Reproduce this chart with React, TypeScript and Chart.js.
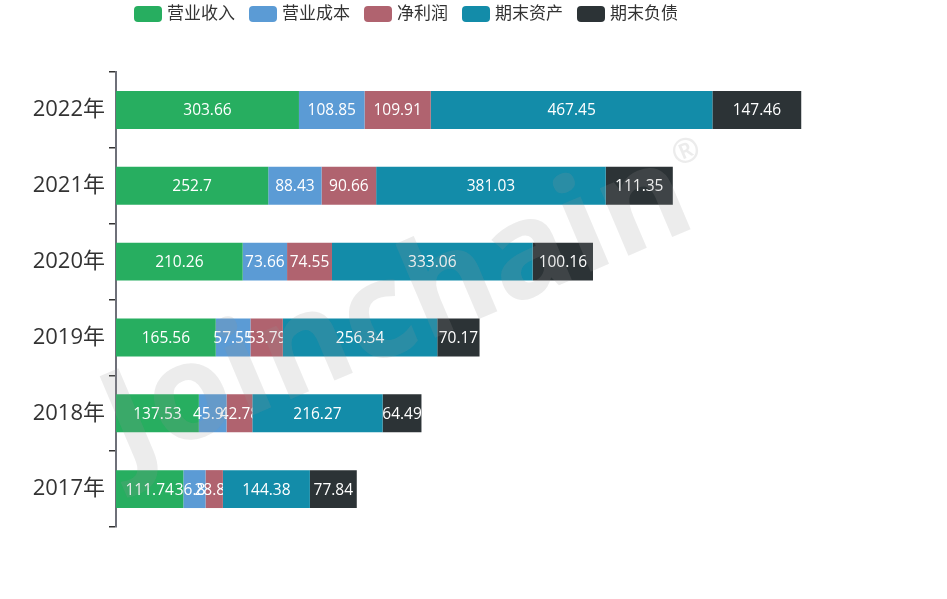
import React, { useEffect, useRef } from "react";
import { Chart, registerables } from "chart.js";

Chart.register(...registerables);

const years = ["2017年", "2018年", "2019年", "2020年", "2021年", "2022年"];
const seriesNames = ["营业收入", "营业成本", "净利润", "期末资产", "期末负债"];
const revenue = [111.74, 137.53, 165.56, 210.26, 252.7, 303.66];
const cost = [36.84, 45.93, 57.55, 73.66, 88.43, 108.85];
const profit = [28.83, 42.78, 53.79, 74.55, 90.66, 109.91];
const assets = [144.38, 216.27, 256.34, 333.06, 381.03, 467.45];
const liabilities = [77.84, 64.49, 70.17, 100.16, 111.35, 147.46];
const colors = ["#27ae60", "#5b9bd5", "#b0636f", "#138ca9", "#2c3336"];

const FONT = '"Open Sans", "Noto Sans CJK SC", sans-serif';

const labelPlugin = {
  id: "barLabels",
  afterDatasetsDraw(chart: any) {
    const ctx = chart.ctx;
    chart.data.datasets.forEach((ds: any, di: number) => {
      const meta = chart.getDatasetMeta(di);
      meta.data.forEach((bar: any, i: number) => {
        const v = ds.data[i];
        const left = Math.min(bar.x, bar.base);
        const right = Math.max(bar.x, bar.base);
        const cx = (left + right) / 2;
        ctx.save();
        ctx.beginPath();
        ctx.rect(0, bar.y - 30, right, 60);
        ctx.clip();
        ctx.font = "15.5px " + FONT;
        ctx.fillStyle = "#ffffff";
        ctx.textAlign = "center";
        ctx.textBaseline = "middle";
        ctx.fillText(String(v), cx, bar.y + 1);
        ctx.restore();
      });
    });
  },
};

const legendPlugin = {
  id: "customLegend",
  afterDraw(chart: any) {
    const ctx = chart.ctx;
    ctx.save();
    ctx.font = "17px " + FONT;
    ctx.textBaseline = "middle";
    ctx.textAlign = "left";
    let x = 134;
    const y = 14;
    seriesNames.forEach((name, i) => {
      ctx.fillStyle = colors[i];
      ctx.beginPath();
      (ctx as any).roundRect(x, y - 8, 28, 16, 4);
      ctx.fill();
      x += 28 + 5;
      ctx.fillStyle = "#333";
      ctx.fillText(name, x, y);
      x += ctx.measureText(name).width + 14;
    });
    ctx.restore();
  },
};

const watermarkPlugin = {
  id: "watermark",
  afterDraw(chart: any) {
    const ctx = chart.ctx;
    ctx.save();
    ctx.translate(398, 312);
    ctx.rotate((-23 * Math.PI) / 180);
    ctx.fillStyle = "rgba(150,150,150,0.18)";
    ctx.font = "bold 134px " + FONT;
    ctx.textAlign = "center";
    ctx.textBaseline = "middle";
    const t = "Joinchain";
    ctx.fillText(t, 0, 0);
    const w = ctx.measureText(t).width;
    ctx.font = "bold 34px " + FONT;
    ctx.textAlign = "left";
    ctx.fillText("®", w / 2 + 2, -34);
    ctx.restore();
  },
};

export default function App() {
  const ref = useRef<HTMLCanvasElement | null>(null);
  useEffect(() => {
    if (!ref.current) return;
    const data = [revenue, cost, profit, assets, liabilities];
    const chart = new Chart(ref.current, {
      type: "bar",
      data: {
        labels: years,
        datasets: seriesNames.map((n, i) => ({
          label: n,
          data: data[i],
          backgroundColor: colors[i],
          borderWidth: 0,
          categoryPercentage: 1,
          barPercentage: 0.5,
        })),
      },
      options: {
        indexAxis: "y",
        animation: false,
        responsive: true,
        maintainAspectRatio: false,
        layout: { padding: { left: 0, right: 108, top: 72, bottom: 72 } },
        plugins: { legend: { display: false }, tooltip: { enabled: false } },
        scales: {
          x: { type: "linear", stacked: true, display: false, min: 0, max: 1200 },
          y: {
            type: "category",
            stacked: true,
            reverse: true,
            afterFit(scale: any) {
              scale.width = 116;
            },
            border: { display: true, color: "#6e7079", width: 2 },
            grid: {
              display: true,
              drawOnChartArea: false,
              drawTicks: true,
              tickLength: 7,
              offset: true,
              color: "#333",
              lineWidth: 1.5,
            },
            ticks: {
              padding: 4,
              color: "#333",
              font: { size: 22, family: FONT },
            },
          },
        },
      } as any,
      plugins: [labelPlugin, legendPlugin, watermarkPlugin],
    });
    return () => chart.destroy();
  }, []);
  return (
    <div style={{ position: "fixed", left: 0, top: 0, width: 947, height: 599, background: "#fff" }}>
      <canvas ref={ref} />
    </div>
  );
}
